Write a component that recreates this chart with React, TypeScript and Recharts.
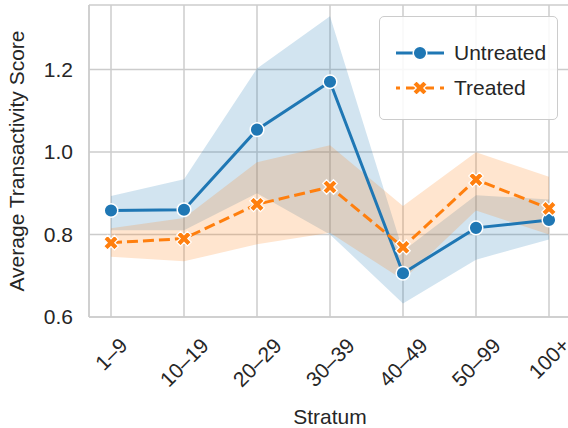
import {
  ComposedChart,
  Area,
  Line,
  XAxis,
  YAxis,
  CartesianGrid,
  Legend,
} from "recharts";

const BLUE = "#1f77b4";
const ORANGE = "#ff7f0e";
const GRID = "#cccccc";
const TEXT = "#262626";
const FONT = '"Liberation Sans", Arial, sans-serif';
const FS = 21;

const STRATA = ["1–9", "10–19", "20–29", "30–39", "40–49", "50–99", "100+"];
const UNTREATED = [0.858, 0.86, 1.054, 1.17, 0.706, 0.816, 0.835];
const UNTREATED_LO = [0.81, 0.81, 0.9, 0.8, 0.633, 0.739, 0.788];
const UNTREATED_HI = [0.893, 0.934, 1.202, 1.329, 0.76, 0.895, 0.885];
const TREATED = [0.78, 0.79, 0.873, 0.915, 0.769, 0.933, 0.863];
const TREATED_LO = [0.746, 0.735, 0.776, 0.804, 0.69, 0.858, 0.8];
const TREATED_HI = [0.815, 0.84, 0.975, 1.016, 0.869, 0.999, 0.94];
const Y_TICKS = [0.6, 0.8, 1.0, 1.2];

const data = STRATA.map((s, i) => ({
  s,
  untreated: UNTREATED[i],
  treated: TREATED[i],
  uBand: [UNTREATED_LO[i], UNTREATED_HI[i]],
  tBand: [TREATED_LO[i], TREATED_HI[i]],
}));

// filled "X" marker like matplotlib's
function xPath(cx: number, cy: number, L = 7.6, t = 2.7) {
  const pts = [
    [-t, -L], [t, -L], [t, -t], [L, -t], [L, t], [t, t],
    [t, L], [-t, L], [-t, t], [-L, t], [-L, -t], [-t, -t],
  ];
  const c = Math.SQRT1_2;
  return (
    pts
      .map(([px, py], i) => {
        const rx = (px - py) * c + cx;
        const ry = (px + py) * c + cy;
        return `${i ? "L" : "M"}${rx.toFixed(2)},${ry.toFixed(2)}`;
      })
      .join(" ") + " Z"
  );
}

const CircleDot = (p: any) => (
  <circle key={p.index} cx={p.cx} cy={p.cy} r={6.8} fill={BLUE} stroke="#fff" strokeWidth={1.5} />
);
const XDot = (p: any) => (
  <path key={p.index} d={xPath(p.cx, p.cy)} fill={ORANGE} stroke="#fff" strokeWidth={1.2} />
);

function XTick({ x, y, payload }: any) {
  const label = String(payload.value);
  let w = 0;
  for (const ch of label) w += ch === "+" ? 0.584 : 0.556;
  w *= FS;
  const h = (w + 0.75 * FS) * Math.SQRT1_2;
  return (
    <text
      transform={`translate(${x},${y + 19 + h / 2}) rotate(-45)`}
      textAnchor="middle"
      dominantBaseline="central"
      fontSize={FS}
      fontFamily={FONT}
      fill={TEXT}
    >
      {label}
    </text>
  );
}

function LegendBox() {
  return (
    <div
      style={{
        width: 177,
        height: 102,
        border: `1.5px solid ${GRID}`,
        borderRadius: 5,
        background: "rgba(255,255,255,0.85)",
        fontFamily: FONT,
        fontSize: FS,
        color: TEXT,
        position: "relative",
      }}
    >
      <svg width={66} height={102} style={{ position: "absolute", left: 0, top: 0 }}>
        <line x1={16} x2={64} y1={36} y2={36} stroke={BLUE} strokeWidth={3} />
        <circle cx={40} cy={36} r={6.8} fill={BLUE} stroke="#fff" strokeWidth={1.5} />
        <line x1={16} x2={64} y1={71} y2={71} stroke={ORANGE} strokeWidth={3} strokeDasharray="4 6 28 6 4" />
        <path d={xPath(40, 71)} fill={ORANGE} stroke="#fff" strokeWidth={1.2} />
      </svg>
      <div style={{ position: "absolute", left: 74, top: 36 - 13, lineHeight: "26px" }}>Untreated</div>
      <div style={{ position: "absolute", left: 74, top: 71 - 13, lineHeight: "26px" }}>Treated</div>
    </div>
  );
}

export default function App() {
  return (
    <div style={{ position: "absolute", left: 0, top: 0, width: 568, height: 428, overflow: "hidden", background: "#fff" }}>
      <ComposedChart width={580} height={428} data={data} margin={{ top: 5, right: 9, left: 0, bottom: 0 }}>
        <CartesianGrid stroke={GRID} strokeWidth={1.5} />
        <XAxis
          dataKey="s"
          tick={<XTick />}
          tickLine={false}
          tickSize={0}
          tickMargin={0}
          interval={0}
          axisLine={{ stroke: GRID, strokeWidth: 1.5 }}
          padding={{ left: 22, right: 22 }}
          height={111}
          label={{
            content: (p: any) => (
              <text
                x={p.viewBox.x + p.viewBox.width / 2}
                y={424}
                textAnchor="middle"
                fontSize={FS}
                fontFamily={FONT}
                fill={TEXT}
              >
                Stratum
              </text>
            ),
          }}
        />
        <XAxis
          xAxisId="top"
          orientation="top"
          dataKey="s"
          tick={false}
          tickLine={false}
          height={0}
          axisLine={{ stroke: GRID, strokeWidth: 1.5 }}
          padding={{ left: 22, right: 22 }}
        />
        <YAxis
          width={89}
          domain={[0.6, 1.356]}
          ticks={Y_TICKS}
          allowDataOverflow
          tickFormatter={(v: number) => v.toFixed(1)}
          tickLine={false}
          tickSize={0}
          tickMargin={16}
          axisLine={{ stroke: GRID, strokeWidth: 1.5 }}
          tick={{ fontSize: FS, fontFamily: FONT, fill: TEXT }}
          label={{
            content: (p: any) => (
              <text
                transform={`translate(24,${p.viewBox.y + p.viewBox.height / 2}) rotate(-90)`}
                textAnchor="middle"
                fontSize={FS}
                fontFamily={FONT}
                fill={TEXT}
              >
                Average Transactivity Score
              </text>
            ),
          }}
        />
        <Legend
          layout="horizontal"
          verticalAlign="middle"
          align="center"
          content={() => <LegendBox />}
          wrapperStyle={{ position: "absolute", left: 379, top: 16, width: "auto", height: "auto" }}
        />
        <Area dataKey="uBand" stroke="none" fill={BLUE} fillOpacity={0.2} isAnimationActive={false} activeDot={false} />
        <Line
          dataKey="untreated"
          stroke={BLUE}
          strokeWidth={3}
          dot={CircleDot}
          activeDot={false}
          isAnimationActive={false}
        />
        <Area dataKey="tBand" stroke="none" fill={ORANGE} fillOpacity={0.2} isAnimationActive={false} activeDot={false} />
        <Line
          dataKey="treated"
          stroke={ORANGE}
          strokeWidth={3}
          strokeDasharray="11 5"
          dot={XDot}
          activeDot={false}
          isAnimationActive={false}
        />
      </ComposedChart>
    </div>
  );
}
